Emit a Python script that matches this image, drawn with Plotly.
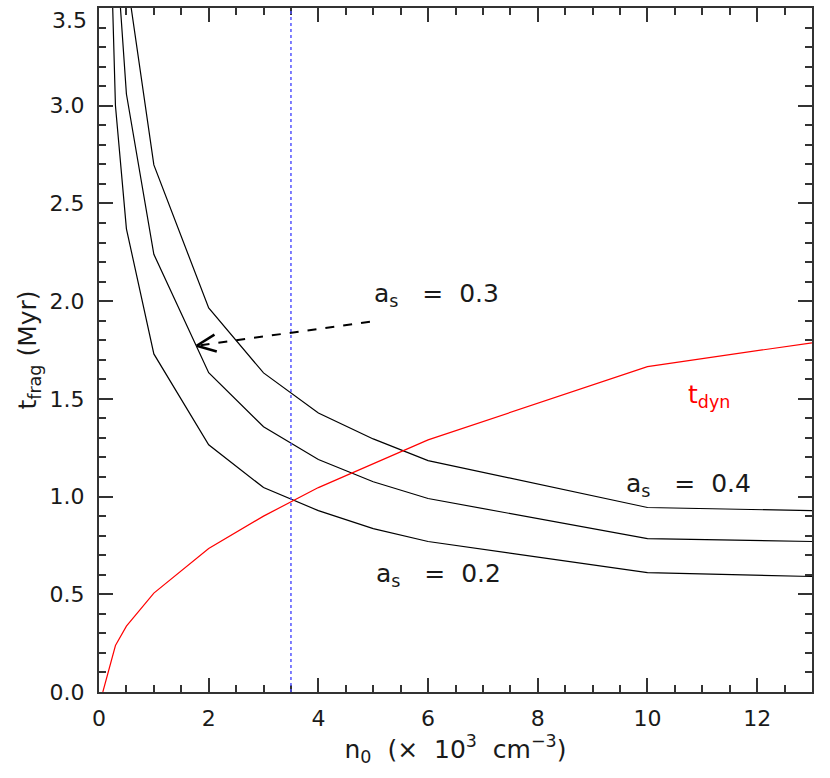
import plotly.graph_objects as go
import numpy as np

# ---- data ----
n0 = [0.1, 0.3, 0.5, 1, 2, 3, 4, 5, 6, 10, 13]
t_frag_02 = [5.0, 3.0, 2.37, 1.73, 1.265, 1.046, 0.928, 0.836, 0.77, 0.611, 0.591]
t_frag_03 = [6.45, 3.87, 3.06, 2.24, 1.634, 1.357, 1.19, 1.076, 0.99, 0.785, 0.77]
t_frag_04 = [7.75, 4.65, 3.67, 2.697, 1.965, 1.633, 1.428, 1.295, 1.184, 0.944, 0.928]

n0_dyn = [0.07, 0.3, 0.5, 1, 2, 3, 4, 5, 6, 10, 13]
t_dyn = [0.0, 0.238, 0.337, 0.506, 0.734, 0.90, 1.046, 1.17, 1.29, 1.665, 1.787]

n_vline = 3.5

x_ticks = [0, 2, 4, 6, 8, 10, 12]
y_ticks = [0.0, 0.5, 1.0, 1.5, 2.0, 2.5, 3.0, 3.5]
y_tick_labels = ["0.0", "0.5", "1.0", "1.5", "2.0", "2.5", "3.0", ""]
top_tick_label = "3.5"

XR = [0, 13]
YR = [0, 3.5]

# ---- layout geometry ----
W, H = 830, 778
ML, MR, MT, MB = 99, 18, 6, 86
pw = W - ML - MR
ph = H - MT - MB
sx = pw / (XR[1] - XR[0])
sy = ph / (YR[1] - YR[0])

FONT = "DejaVu Sans ExtraLight, DejaVu Sans, sans-serif"
TXT = "#1a1a1a"
AX = "#333333"
NB = "\u00a0"

fig = go.Figure()
for ys in (t_frag_02, t_frag_03, t_frag_04):
    fig.add_trace(go.Scatter(x=n0, y=ys, mode="lines",
                             line=dict(color="black", width=1.2),
                             showlegend=False, hoverinfo="skip"))
fig.add_trace(go.Scatter(x=n0_dyn, y=t_dyn, mode="lines",
                         line=dict(color="#ff0000", width=1.2),
                         showlegend=False, hoverinfo="skip"))

# vertical dotted line
fig.add_shape(type="line", x0=n_vline, x1=n_vline, y0=YR[0], y1=YR[1],
              xref="x", yref="y", line=dict(color="#5555ff", width=1.5, dash="dot"))

# dashed arrow from label a_s=0.3 to middle curve
tail = (4.94, 1.894)
head = (1.78, 1.772)
fig.add_shape(type="line", x0=tail[0], y0=tail[1], x1=head[0], y1=head[1],
              xref="x", yref="y", line=dict(color="black", width=2, dash="dash"))
dxp = (tail[0] - head[0]) * sx
dyp = (tail[1] - head[1]) * sy
ang = np.arctan2(dyp, dxp)
L = 21
for s in (+1, -1):
    a = ang + s * np.radians(24)
    wx = head[0] + L * np.cos(a) / sx
    wy = head[1] + L * np.sin(a) / sy
    fig.add_shape(type="line", x0=head[0], y0=head[1], x1=wx, y1=wy,
                  xref="x", yref="y", line=dict(color="black", width=2.5))

fs = 25
def lab(text, x, y, color=TXT):
    fig.add_annotation(text=text, x=x, y=y, xref="x", yref="y", showarrow=False,
                       font=dict(family=FONT, size=fs, color=color),
                       xanchor="left", yanchor="middle")

def as_label(v):
    return "a<sub>s</sub>" + NB * 3 + "=" + NB * 2 + v

lab(as_label("0.3"), (372 - ML) / sx, (H - MB - 294) / sy)
lab(as_label("0.4"), (624 - ML) / sx, (H - MB - 484) / sy)
lab(as_label("0.2"), (374 - ML) / sx, (H - MB - 575) / sy)
lab("t<sub>dyn</sub>", (686 - ML) / sx, (H - MB - 395) / sy, color="#ff0000")

# top y tick label (drawn slightly below the top edge, as in the reference)
fig.add_annotation(text=top_tick_label, x=0, y=3.5 - 13 / sy, xref="paper", yref="y",
                   showarrow=False, xanchor="right", yanchor="middle", xshift=-10,
                   font=dict(family=FONT, size=22, color=TXT))

axis_common = dict(
    showgrid=False, zeroline=False, showline=True, linecolor=AX, linewidth=2,
    mirror="allticks", ticks="inside", ticklen=14, tickwidth=1.5, tickcolor=AX,
    tickfont=dict(family=FONT, size=22, color=TXT),
)
xtitle = "n<sub>0</sub>" + NB * 2 + "(×" + NB * 2 + "10<sup>3</sup>" + NB * 2 + "cm<sup>−3</sup>)"
fig.update_xaxes(range=XR, tickvals=x_ticks, ticktext=[str(v) for v in x_ticks],
                 minor=dict(dtick=0.5, ticklen=7, tickwidth=1.5, tickcolor=AX, ticks="inside"),
                 title=dict(text=xtitle,
                            font=dict(family=FONT, size=25, color=TXT), standoff=4),
                 ticklabelstandoff=6,
                 **axis_common)
fig.update_yaxes(range=YR, tickvals=y_ticks, ticktext=y_tick_labels,
                 minor=dict(dtick=0.1, ticklen=7, tickwidth=1.5, tickcolor=AX, ticks="inside"),
                 title=dict(text="t<sub>frag</sub> (Myr)",
                            font=dict(family=FONT, size=25, color=TXT), standoff=6),
                 ticklabelstandoff=8,
                 **axis_common)

fig.update_layout(width=W, height=H, margin=dict(l=ML, r=MR, t=MT, b=MB),
                  plot_bgcolor="white", paper_bgcolor="white",
                  font=dict(family=FONT, color=TXT))

fig.write_html("out.html", config={"displayModeBar": False},
               post_script="document.body.style.margin='0';document.body.style.overflow='hidden';")
